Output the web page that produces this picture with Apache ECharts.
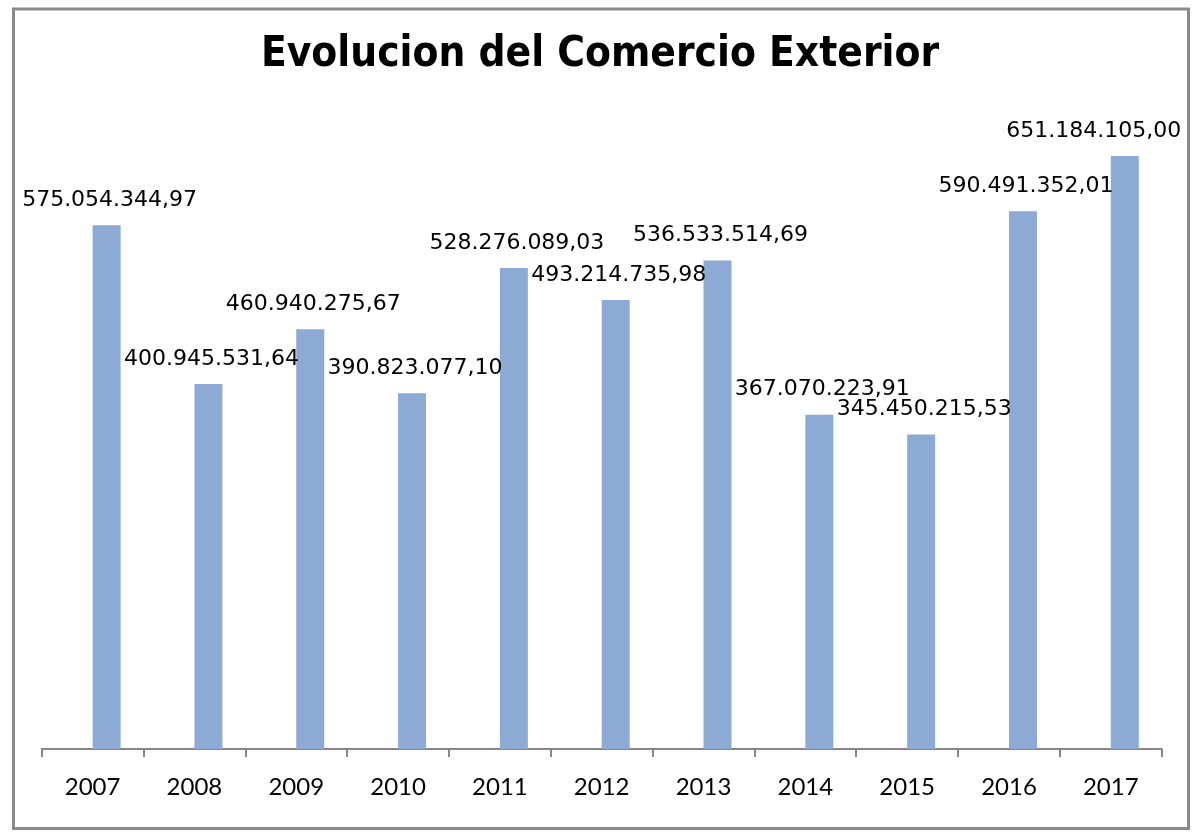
<!DOCTYPE html>
<html>
<head>
<meta charset="utf-8">
<script src="https://cdn.jsdelivr.net/npm/echarts@6/dist/echarts.min.js"></script>
<style>
html,body{margin:0;padding:0;background:#fff;}
#chart{width:1200px;height:837px;}
</style>
</head>
<body>
<div id="chart"></div>
<script>
const categories = ['2007','2008','2009','2010','2011','2012','2013','2014','2015','2016','2017'];
const values = [575054344.97, 400945531.64, 460940275.67, 390823077.10, 528276089.03, 493214735.98, 536533514.69, 367070223.91, 345450215.53, 590491352.01, 651184105.00];
const titleText = 'Evolucion del Comercio Exterior';

function fmt(v) {
  const parts = v.toFixed(2).split('.');
  const intPart = parts[0].replace(/\B(?=(\d{3})+(?!\d))/g, '.');
  return intPart + ',' + parts[1];
}

const chart = echarts.init(document.getElementById('chart'), null, {renderer: 'canvas'});
const seriesData = values.map((v, i) => {
  const item = {value: v};
  if (i === values.length - 1) item.label = {offset: [-31, 0]};
  return item;
});

chart.setOption({
  animation: false,
  backgroundColor: '#ffffff',
  title: {
    text: titleText,
    left: 'center',
    top: 29,
    textStyle: {
      fontFamily: 'DejaVu Sans Condensed, DejaVu Sans',
      fontWeight: 'bold',
      fontSize: 42,
      color: '#000000'
    }
  },
  graphic: [{
    type: 'rect',
    shape: {x: 13.5, y: 9, width: 1175, height: 819.5},
    style: {fill: 'none', stroke: '#8a8a8a', lineWidth: 3},
    silent: true,
    z: 100
  }],
  grid: {left: 41.7, right: 38.3, top: 111.6, bottom: 88, containLabel: false},
  xAxis: {
    type: 'category',
    data: categories,
    axisLine: {lineStyle: {color: '#868686', width: 2}},
    axisTick: {show: true, length: 8, lineStyle: {color: '#868686', width: 2}},
    axisLabel: {
      color: '#000000',
      fontFamily: 'Lato',
      fontSize: 24,
      margin: 26
    },
    splitLine: {show: false}
  },
  yAxis: {
    type: 'value',
    min: 0,
    max: 700000000,
    show: false,
    splitLine: {show: false}
  },
  series: [
    {
      type: 'bar',
      data: categories.map(() => null),
      barWidth: 28,
      barGap: '0%'
    },
    {
      type: 'bar',
      data: seriesData,
      barWidth: 28,
      barGap: '0%',
      itemStyle: {color: '#8DAAD5'},
      label: {
        show: true,
        position: 'top',
        distance: 14,
        offset: [3, 0],
        formatter: p => fmt(p.value),
        fontFamily: 'DejaVu Sans',
        fontSize: 22,
        color: '#000000'
      }
    }
  ]
});
</script>
</body>
</html>
